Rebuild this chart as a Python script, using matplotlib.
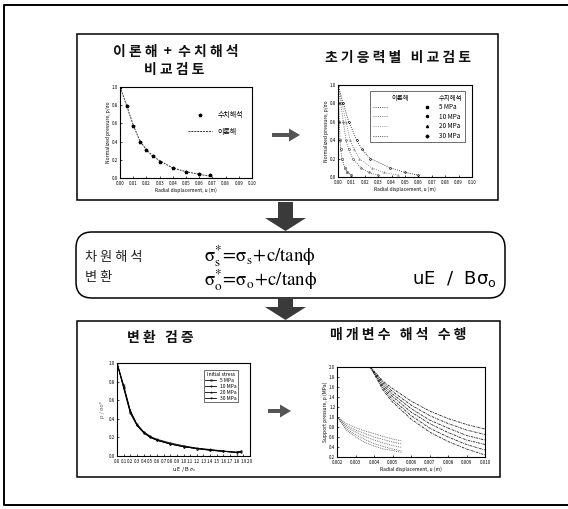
import matplotlib
matplotlib.use("Agg")
import matplotlib.pyplot as plt
from matplotlib.patches import FancyBboxPatch, FancyArrow
from matplotlib.lines import Line2D

plt.rcParams['font.family'] = ['Noto Sans CJK KR', 'DejaVu Sans']
plt.rcParams['mathtext.fontset'] = 'stix'

W, H = 568, 509

# --- panel 1: theory vs numerical
disp1 = [0.000, 0.005, 0.010, 0.015, 0.020, 0.025, 0.030, 0.040, 0.050, 0.060, 0.068]
p_theory1 = [1.00, 0.80, 0.58, 0.41, 0.31, 0.24, 0.19, 0.11, 0.07, 0.04, 0.02]
p_num1 = [1.00, 0.79, 0.57, 0.40, 0.31, 0.24, 0.18, 0.11, 0.07, 0.04, 0.03]

# --- panel 2: by initial stress
stress_labels = ["5 MPa", "10 MPa", "20 MPa", "30 MPa"]
p2 = [1.0, 0.8, 0.6, 0.4, 0.3, 0.2, 0.1, 0.05, 0.02]
disp2 = [
    [0, 0.0005, 0.001, 0.0015, 0.002, 0.003, 0.005, 0.007, 0.010],
    [0, 0.002, 0.004, 0.006, 0.008, 0.011, 0.017, 0.023, 0.030],
    [0, 0.003, 0.006, 0.009, 0.012, 0.016, 0.025, 0.034, 0.045],
    [0, 0.004, 0.008, 0.014, 0.018, 0.024, 0.039, 0.050, 0.060],
]

# --- panel 3: normalized (uE/B sigma_o)
norm3 = [0, 0.1, 0.2, 0.3, 0.4, 0.5, 0.6, 0.8, 1.0, 1.2, 1.4, 1.6, 1.8, 1.86]
p3 = [
    [1.00, 0.73, 0.46, 0.33, 0.25, 0.20, 0.17, 0.13, 0.10, 0.08, 0.065, 0.05, 0.04, 0.05],
    [1.00, 0.74, 0.47, 0.33, 0.25, 0.20, 0.17, 0.13, 0.10, 0.08, 0.065, 0.05, 0.04, 0.045],
    [1.00, 0.75, 0.48, 0.34, 0.26, 0.21, 0.17, 0.13, 0.10, 0.08, 0.06, 0.05, 0.035, 0.04],
    [1.00, 0.76, 0.49, 0.34, 0.26, 0.21, 0.18, 0.14, 0.11, 0.085, 0.07, 0.055, 0.04, 0.05],
]

# --- panel 4: parametric study
disp4 = [0.0038, 0.0045, 0.005, 0.006, 0.007, 0.008, 0.009, 0.010]
p4 = [
    [2.0, 1.71, 1.57, 1.32, 1.12, 0.97, 0.85, 0.76],
    [2.0, 1.68, 1.51, 1.24, 1.03, 0.87, 0.74, 0.65],
    [2.0, 1.64, 1.46, 1.17, 0.94, 0.78, 0.63, 0.54],
    [2.0, 1.60, 1.41, 1.10, 0.87, 0.69, 0.54, 0.45],
    [2.0, 1.57, 1.35, 1.03, 0.78, 0.60, 0.45, 0.34],
    [2.0, 1.53, 1.30, 0.96, 0.70, 0.51, 0.36, 0.24],
]
disp4b = [0.002, 0.0025, 0.003, 0.0035, 0.004, 0.0045, 0.005, 0.0055]
p4b = [
    [1.01, 0.87, 0.79, 0.72, 0.67, 0.61, 0.56, 0.52],
    [1.01, 0.83, 0.74, 0.67, 0.60, 0.55, 0.50, 0.46],
    [1.01, 0.80, 0.70, 0.61, 0.54, 0.48, 0.43, 0.39],
    [1.01, 0.76, 0.65, 0.55, 0.47, 0.41, 0.36, 0.32],
    [1.01, 0.74, 0.60, 0.49, 0.42, 0.36, 0.33, 0.29],
]

fig = plt.figure(figsize=(W / 100, H / 100), dpi=100)

# overlay in pixel coordinates for boxes, arrows and text
ov = fig.add_axes([0, 0, 1, 1])
ov.set_xlim(0, W)
ov.set_ylim(H, 0)
ov.axis('off')

# outer frame (no right edge in the scan)
ov.plot([W, 4, 4, W], [5, 5, 505, 505], color='black', lw=1.4)

# top and bottom boxes
ov.add_patch(plt.Rectangle((77, 34), 421, 166, fill=False, ec='black', lw=1.1))
ov.add_patch(plt.Rectangle((77, 321), 423, 156, fill=False, ec='black', lw=1.1))
# rounded box
ov.add_patch(FancyBboxPatch((76, 232), 429, 66, boxstyle="round,pad=0,rounding_size=16",
                            fill=False, ec='black', lw=1.1))

# big down arrows
for y0, y1 in [(202, 231), (299, 320)]:
    ov.add_patch(FancyArrow(285.5, y0, 0, y1 - y0, width=15, head_width=41,
                            head_length=13, length_includes_head=True,
                            color='#3a3a3a', lw=0))
# small right arrows inside boxes
for x0, x1, y in [(272, 300, 135), (268, 291, 411)]:
    ov.add_patch(FancyArrow(x0, y, x1 - x0, 0, width=4, head_width=13,
                            head_length=11, length_includes_head=True,
                            color='#555555', lw=0))

title_kw = dict(fontsize=10, ha='center', va='center', color='#111111', fontweight='bold')
ov.text(176, 52, "이 론 해  +  수 치 해 석", **title_kw)
ov.text(174, 70, "비 교 검 토", **title_kw)
ov.text(398, 58, "초 기 응 력 별   비 교 검 토", **title_kw)
ov.text(160, 338, "변 환   검 증", **title_kw)
ov.text(398, 335, "매 개 변 수   해 석   수 행", **title_kw)

ov.text(85, 258, "차 원 해 석", fontsize=9.5, ha='left', va='center', color='#222222')
ov.text(85, 278, "변 환", fontsize=9.5, ha='left', va='center', color='#222222')
ov.text(204, 256, r"$\mathrm{\sigma^{*}_{s}\!=\!\sigma_{s}\!+\!c/tan\phi}$", fontsize=13.5,
        ha='left', va='center', color='black')
ov.text(204, 280, r"$\mathrm{\sigma^{*}_{o}\!=\!\sigma_{o}\!+\!c/tan\phi}$", fontsize=13.5,
        ha='left', va='center', color='black')
ov.text(412, 279, r"uE  /  B$\mathregular{\sigma_o}$", fontsize=13, ha='left',
        va='center', color='black', family='DejaVu Sans')


def px_axes(x0, y0, x1, y1):
    ax = fig.add_axes([x0 / W, 1 - y1 / H, (x1 - x0) / W, (y1 - y0) / H])
    ax.tick_params(direction='in', labelsize=3.2, length=1.5, width=0.5)
    ax.tick_params(axis='x', pad=2.2)
    ax.tick_params(axis='y', pad=1.2)
    for s in ax.spines.values():
        s.set_linewidth(0.8)
    return ax


small = dict(fontsize=3.5, labelpad=1)

# panel 1
ax1 = px_axes(120, 87, 252, 178)
ax1.plot(disp1, p_theory1, ls=(0, (2, 1)), color='#333333', lw=0.7, label='이론해')
ax1.plot(disp1, p_num1, ls='none', marker='*', ms=2.5, color='black', label='수치해석')
ax1.set_xlim(0, 0.10)
ax1.set_ylim(0, 1.0)
ax1.set_xticks([i / 100 for i in range(11)])
ax1.set_yticks([0, 0.2, 0.4, 0.6, 0.8, 1.0])
ax1.set_xlabel("Radial displacement, u (m)", **small)
ax1.set_ylabel("Normalized pressure, p/σo", **small)
h, l = ax1.get_legend_handles_labels()
ax1.legend(h[::-1], l[::-1], loc='upper right', bbox_to_anchor=(0.98, 0.8),
           frameon=False, fontsize=5, handlelength=3.5, labelspacing=1.2)

# panel 2
ax2 = px_axes(338, 85, 472, 177)
markers = ['s', 'o', '^', 'D']
shades = ['#222222', '#444444', '#777777', '#111111']
for d, m, c in zip(disp2, markers, shades):
    ax2.plot(d, p2, ls=':', color=c, lw=0.6, marker=m, ms=1.3, mfc='none', mew=0.4)
ax2.set_xlim(0, 0.10)
ax2.set_ylim(0, 1.0)
ax2.set_xticks([i / 100 for i in range(11)])
ax2.set_yticks([0, 0.2, 0.4, 0.6, 0.8, 1.0])
ax2.set_xlabel("Radial displacement, u (m)", **small)
ax2.set_ylabel("Normalized pressure, p/σo", **small)
theory_h = [Line2D([], [], ls='none')] + [Line2D([], [], ls=':', color=c, lw=0.6) for c in shades]
num_h = [Line2D([], [], ls='none')] + [Line2D([], [], ls='none', marker=m, ms=1.5, color='black')
                                     for m in markers]
leg2 = ax2.legend(theory_h + num_h, ["이론해", "", "", "", ""] + ["수치해석"] + stress_labels,
                  ncol=2, loc='upper right', bbox_to_anchor=(0.97, 0.97), fontsize=4.6,
                  handlelength=2.2, labelspacing=0.25, columnspacing=1.6, fancybox=False,
                  edgecolor='black', borderpad=0.4)
leg2.get_frame().set_linewidth(0.5)

# panel 3
ax3 = px_axes(117, 363, 250, 456)
for row, m in zip(p3, ['s', 'o', '^', 'v']):
    ax3.plot(norm3, row, color='black', lw=0.6, marker=m, ms=1.0, mfc='none', mew=0.3)
ax3.set_xlim(0, 2.0)
ax3.set_ylim(0, 1.0)
ax3.set_xticks([i / 10 for i in range(21)])
ax3.set_yticks([0, 0.2, 0.4, 0.6, 0.8, 1.0])
ax3.set_xlabel(r"u E / B $\sigma_o$", fontsize=4, labelpad=1)
ax3.set_ylabel("p / σo*", fontsize=4, labelpad=3, color='#555555')
leg3 = ax3.legend([Line2D([], [], color='black', lw=0.6, marker=m, ms=1.2, mfc='none', mew=0.3)
                   for m in ['s', 'o', '^', 'v']], stress_labels, title="Initial stress",
                  title_fontsize=3.6, fontsize=3.6, loc='upper right',
                  bbox_to_anchor=(0.93, 0.95), fancybox=False, edgecolor='black',
                  handlelength=2.2, labelspacing=0.2, borderpad=0.3)
leg3.get_frame().set_linewidth(0.5)

# panel 4
ax4 = px_axes(337, 367, 485, 457)
for row in p4:
    ax4.plot(disp4, row, ls=(0, (3, 1, 1, 1)), color='#222222', lw=0.6)
for row in p4b:
    ax4.plot(disp4b, row, ls=(0, (1, 1.2)), color='#555555', lw=0.6)
ax4.set_xlim(0.002, 0.010)
ax4.set_ylim(0.2, 2.0)
ax4.set_xticks([0.002 + 0.001 * i for i in range(9)])
ax4.set_yticks([0.2 * i for i in range(1, 11)])
ax4.xaxis.set_major_formatter(plt.FormatStrFormatter('%.3f'))
ax4.yaxis.set_major_formatter(plt.FormatStrFormatter('%.1f'))
ax4.set_xlabel("Radial displacement, u (m)", **small)
ax4.set_ylabel("Support pressure, p (MPa)", **small)

fig.savefig("out.png", dpi=100)
